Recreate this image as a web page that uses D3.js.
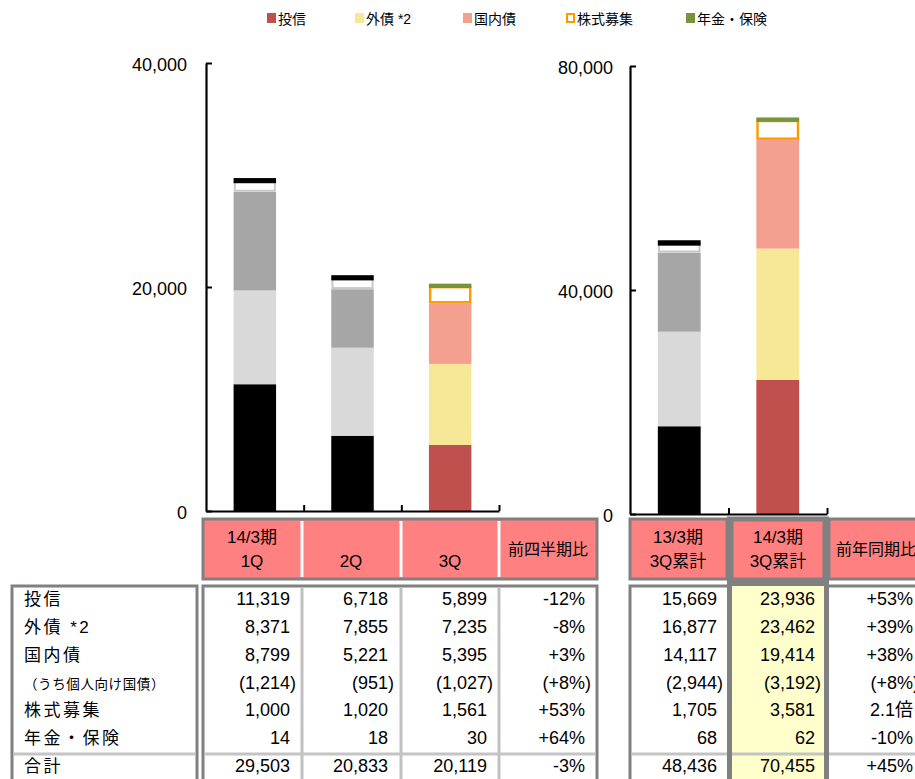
<!DOCTYPE html>
<html>
<head>
<meta charset="utf-8">
<script src="https://cdn.jsdelivr.net/npm/d3@7"></script>
<style>
  body { margin: 0; background: #fff; }
  svg text { font-family: "Liberation Sans", "Noto Sans CJK JP", sans-serif; fill: #000; }
</style>
</head>
<body>
<div id="container"></div>
<script>
///data
const seriesKeys = ["投信", "外債 *2", "国内債", "株式募集", "年金・保険"];
const columns = ["1Q", "2Q", "3Q", "13/3", "14/3"];
const toushin = [11319, 6718, 5899, 15669, 23936];
const gaisai = [8371, 7855, 7235, 16877, 23462];
const kokunai = [8799, 5221, 5395, 14117, 19414];
const kojin = [1214, 951, 1027, 2944, 3192];
const kabu = [1000, 1020, 1561, 1705, 3581];
const nenkin = [14, 18, 30, 68, 62];
const total = [29503, 20833, 20119, 48436, 70455];
const qoq = ["-12%", "-8%", "+3%", "(+8%)", "+53%", "+64%", "-3%"];
const yoy = ["+53%", "+39%", "+38%", "(+8%)", "2.1倍", "-10%", "+45%"];
const rowLabels = ["投信", "外債 *2", "国内債", "（うち個人向け国債）", "株式募集", "年金・保険", "合計"];
const coloured = [false, false, true, false, true];
const leftTicks = [0, 20000, 40000];
const rightTicks = [0, 40000, 80000];

///vars
const w = 915, h = 779;
const colorFill = ["#C0504D", "#F6E896", "#F4A090", "#FFFFFF", "#77933C"];
const greyFill = ["#000000", "#D9D9D9", "#A6A6A6", "#FFFFFF", "#000000"];
const kabuStroke = { c: "#FF9900", g: "#C8C8C8" };
const border = "#808080";
const pink = "#FF8080";

const svg = d3.select("#container").append("svg")
  .attr("width", w).attr("height", h);

///legend
const legendX = [267, 355, 463, 566, 686];
const legend = svg.append("g");
seriesKeys.forEach((k, i) => {
  const r = legend.append("rect")
    .attr("x", legendX[i]).attr("y", 13).attr("width", 9).attr("height", 10);
  if (i === 3) r.attr("x", legendX[i] + 1).attr("y", 14).attr("width", 7).attr("height", 8)
    .attr("fill", "#fff").attr("stroke", "#FF9900").attr("stroke-width", 2);
  else r.attr("fill", colorFill[i]);
  legend.append("text").attr("x", legendX[i] + 11).attr("y", 24)
    .style("font-size", "14px").text(k);
});

///bar data
const rows = [toushin, gaisai, kokunai, kabu, nenkin];
const barData = columns.map((c, i) => {
  const o = { col: c, colour: coloured[i] };
  seriesKeys.forEach((k, j) => o[k] = rows[j][i]);
  return o;
});

function drawChart(data, xRange, yRange, maxV, ticks, pad) {
  const g = svg.append("g");
  const x = d3.scaleBand().domain(data.map(d => d.col)).range(xRange)
    .paddingInner(0.565).paddingOuter(0.2825);
  const y = d3.scaleLinear().domain([0, maxV]).range(yRange);
  const stacked = d3.stack().keys(seriesKeys)(data);

  stacked.forEach((layer, j) => {
    g.append("g").selectAll("rect").data(layer).join("rect")
      .each(function (d) {
        const el = d3.select(this);
        const c = d.data.colour;
        const x0 = x(d.data.col), bw = x.bandwidth();
        const y0 = y(d[1]), hh = y(d[0]) - y(d[1]);
        const fill = c ? colorFill[j] : greyFill[j];
        if (j === 3) {
          el.attr("x", x0 + 1.2).attr("width", bw - 2.4)
            .attr("y", y0 + 1.2).attr("height", Math.max(hh - 2.4, 0))
            .attr("fill", "#fff")
            .attr("stroke", c ? kabuStroke.c : kabuStroke.g)
            .attr("stroke-width", c ? 2.4 : 2);
        } else if (j === 4) {
          const sw = c ? 4 : 5;
          el.attr("x", x0 + sw / 2).attr("width", bw - sw)
            .attr("y", y0).attr("height", hh)
            .attr("fill", fill).attr("stroke", fill).attr("stroke-width", sw);
        } else {
          el.attr("x", x0).attr("width", bw).attr("y", y0).attr("height", hh)
            .attr("fill", fill);
        }
      });
  });

  // y axis, ticks inward
  const yAxis = d3.axisLeft(y).tickValues(ticks).tickFormat(d3.format(","))
    .tickSizeInner(-6).tickSizeOuter(0).tickPadding(pad);
  const ya = g.append("g").attr("transform", `translate(${xRange[0]},0)`).call(yAxis);
  ya.select(".domain").attr("stroke", "#000").attr("stroke-width", 2.2);
  ya.selectAll(".tick line").attr("stroke", "#000").attr("stroke-width", 2);
  ya.selectAll(".tick text").style("font-size", "18px")
    .style("font-family", "Liberation Sans").attr("dy", "0.4em");

  // x axis with boundary ticks
  const xb = d3.scaleLinear().domain([0, data.length]).range(xRange);
  const xAxis = d3.axisBottom(xb).ticks(data.length).tickValues(d3.range(1, data.length + 1))
    .tickSizeInner(-6).tickSizeOuter(0).tickFormat("");
  const xa = g.append("g").attr("transform", `translate(0,${yRange[0]})`).call(xAxis);
  xa.select(".domain").attr("stroke", "#000").attr("stroke-width", 2.2);
  xa.selectAll(".tick line").attr("stroke", "#000").attr("stroke-width", 2);
}

drawChart(barData.slice(0, 3), [206, 499], [511, 63], 40000, leftTicks, 19);
drawChart(barData.slice(3), [630, 827], [514, 66], 80000, rightTicks, 17);

///table
const tbl = svg.append("g");
const fmt = d3.format(",");
const rowBand = d3.scaleBand().domain(rowLabels).range([586, 781]);
const base = r => rowBand(r) + 19;

// header cells
const hdr = [
  { x: 203, w: 394 },
  { x: 630, w: 97 },
  { x: 732, w: 92 },
  { x: 829, w: 100 }
];
hdr.forEach(c => tbl.append("rect").attr("x", c.x).attr("y", 519).attr("width", c.w).attr("height", 60)
  .attr("fill", pink).attr("stroke", border).attr("stroke-width", 3));
[302, 401, 499].forEach(xx => tbl.append("line").attr("x1", xx).attr("x2", xx)
  .attr("y1", 521).attr("y2", 577).attr("stroke", "#fff").attr("stroke-width", 3));

// body boxes
tbl.append("rect").attr("x", 12).attr("y", 586).attr("width", 185).attr("height", 210)
  .attr("fill", "#fff").attr("stroke", border).attr("stroke-width", 3);
tbl.append("rect").attr("x", 203).attr("y", 586).attr("width", 394).attr("height", 210)
  .attr("fill", "#fff").attr("stroke", border).attr("stroke-width", 3);
tbl.append("rect").attr("x", 630).attr("y", 586).attr("width", 300).attr("height", 210)
  .attr("fill", "#fff").attr("stroke", border).attr("stroke-width", 3);
tbl.append("rect").attr("x", 730).attr("y", 586).attr("width", 96).attr("height", 210)
  .attr("fill", "#FFFFCC");
[302, 401, 499].forEach(xx => tbl.append("line").attr("x1", xx).attr("x2", xx)
  .attr("y1", 587).attr("y2", 779).attr("stroke", "#C0C0C0").attr("stroke-width", 3));
tbl.append("line").attr("x1", 826.5).attr("x2", 826.5).attr("y1", 587).attr("y2", 779)
  .attr("stroke", border).attr("stroke-width", 3);
// highlighted column frame
tbl.append("rect").attr("x", 729.5).attr("y", 519).attr("width", 97).attr("height", 280)
  .attr("fill", "none").attr("stroke", border).attr("stroke-width", 5);
tbl.append("line").attr("x1", 730).attr("x2", 826).attr("y1", 582.5).attr("y2", 582.5)
  .attr("stroke", border).attr("stroke-width", 6);

// total separator
[[14, 195], [205, 595], [632, 727], [732, 824], [829, 915]].forEach(s =>
  tbl.append("line").attr("x1", s[0]).attr("x2", s[1]).attr("y1", 754).attr("y2", 754)
    .attr("stroke", "#C4C4C4").attr("stroke-width", 3));

// header texts
const ht = (x, y, t, fs) => tbl.append("text").attr("x", x).attr("y", y)
  .attr("text-anchor", "middle").style("font-size", (fs || 17) + "px").text(t);
ht(252, 543, "14/3期"); ht(252, 567, "1Q");
ht(351, 567, "2Q"); ht(450, 567, "3Q");
ht(548, 555, "前四半期比", 16);
ht(678, 543, "13/3期"); ht(678, 567, "3Q累計");
ht(778, 543, "14/3期"); ht(778, 567, "3Q累計");
ht(876, 555, "前年同期比", 16);

// row labels
rowLabels.forEach((r, i) => {
  tbl.append("text").attr("x", i === 3 ? 24 : 24).attr("y", base(r))
    .style("font-size", i === 3 ? "13.5px" : "17px")
    .style("letter-spacing", i === 3 ? "0.6px" : "2.5px")
    .text(r);
});

// values
const colRight = [290, 388, 487, 585, 717, 815, 913];
const allRows = [toushin, gaisai, kokunai, kojin, kabu, nenkin, total];
function cell(x, r, val, paren) {
  const t = tbl.append("text").attr("x", x).attr("y", base(r))
    .attr("text-anchor", "end").style("font-size", "18px").text(paren ? "(" + val : val);
  if (paren) tbl.append("text").attr("x", x).attr("y", base(r))
    .style("font-size", "18px").text(")");
  return t;
}
rowLabels.forEach((r, i) => {
  const vals = allRows[i];
  [0, 1, 2].forEach(c => cell(colRight[c], r, fmt(vals[c]), i === 3));
  [3, 4].forEach(c => cell(colRight[c + 1], r, fmt(vals[c]), i === 3));
  const q = qoq[i], yv = yoy[i];
  if (q.startsWith("(")) cell(colRight[3], r, q.slice(1, -1), true); else cell(colRight[3], r, q, false);
  if (yv.startsWith("(")) cell(colRight[6], r, yv.slice(1, -1), true); else cell(colRight[6], r, yv, false);
});
</script>
</body>
</html>
